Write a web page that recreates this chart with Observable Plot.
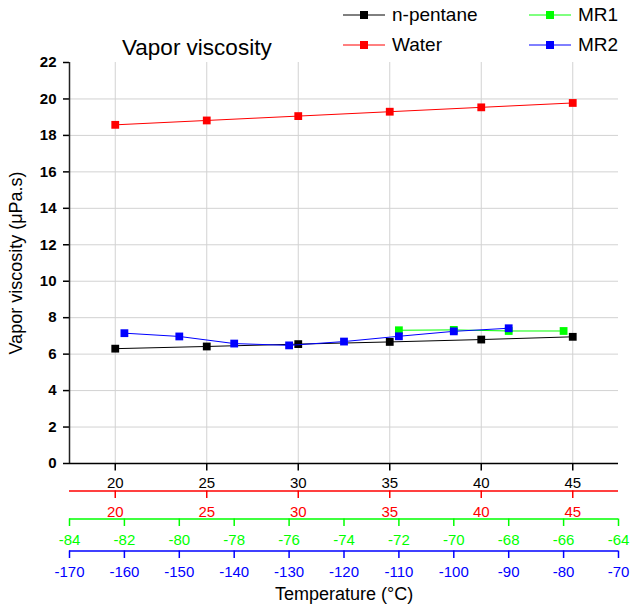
<!DOCTYPE html>
<html><head><meta charset="utf-8">
<script src="https://cdn.jsdelivr.net/npm/d3@7"></script>
<script src="https://cdn.jsdelivr.net/npm/@observablehq/plot@0.6"></script>
<style>
body{margin:0;background:#fff;font-family:"Liberation Sans",Arial,sans-serif;}
#wrap{position:relative;width:631px;height:608px;overflow:hidden;}
#wrap > svg{position:absolute;left:0;top:0;}
#title{position:absolute;left:122px;top:35px;font-size:22.5px;color:#000;white-space:nowrap;}
.leg{position:absolute;display:flex;align-items:center;font-size:19px;color:#000;white-space:nowrap;}
.leg svg{margin-right:7px;}
</style></head><body><div id="wrap"><div id="title">Vapor viscosity</div></div>
<script>
// ---- data ----
const temps = [20, 25, 30, 35, 40, 45];
const pentane = [6.30, 6.42, 6.55, 6.67, 6.80, 6.95];
const water = [18.58, 18.82, 19.06, 19.30, 19.54, 19.78];
const mr1Temps = [-72, -70, -68, -66];
const mr1 = [7.31, 7.33, 7.27, 7.27];
const mr2Temps = [-160, -150, -140, -130, -120, -110, -100, -90];
const mr2 = [7.15, 6.97, 6.58, 6.48, 6.69, 6.98, 7.25, 7.42];

// ---- axes / ticks ----
const xDomain = [17.5, 47.5];
const mr1Domain = [-84, -64];
const mr2Domain = [-170, -70];
const yDomain = [0, 22];
const tempTicks = [20, 25, 30, 35, 40, 45];
const mr1Ticks = [-84, -82, -80, -78, -76, -74, -72, -70, -68, -66, -64];
const mr2Ticks = [-170, -160, -150, -140, -130, -120, -110, -100, -90, -80, -70];
const yTicks = [0, 2, 4, 6, 8, 10, 12, 14, 16, 18, 20, 22];
const yGrid = [2, 4, 6, 8, 10, 12, 14, 16, 18, 20];
const seriesNames = ["n-pentane", "Water", "MR1", "MR2"];
const seriesColors = ["#000000", "#ff0000", "#00ff00", "#0000ff"];
const xTitle = "Temperature (°C)";
const yTitle = "Vapor viscosity (μPa.s)";

const font = '"Liberation Sans", Arial, sans-serif';
const common = {
  width: 631, height: 608,
  marginLeft: 69, marginRight: 13, marginTop: 62, marginBottom: 145,
  style: {background: "transparent", fontFamily: font, fontSize: "15px", overflow: "visible",
          position: "absolute", left: "0px", top: "0px"}
};
const fmt = d => String(d);

function bottomAxis(ticks, color, dy, pad) {
  return [
    Plot.ruleY([0], {stroke: color, strokeWidth: 1.5, dy}),
    Plot.ruleX(ticks, {x: d => d, y1: 0, y2: 0, insetBottom: -7.5, stroke: color, strokeWidth: 1.5, dy}),
    Plot.axisX(ticks, {color, dy, tickSize: 0, tickPadding: pad,
      tickFormat: fmt, label: null, fontSize: 15})
  ];
}
function series(xs, ys, color) {
  const data = xs.map((x, i) => ({x, y: ys[i]}));
  return [
    Plot.line(data, {x: "x", y: "y", stroke: color, strokeWidth: 1}),
    Plot.dot(data, {x: "x", y: "y", symbol: "square", r: 4.4, fill: color, stroke: "none"})
  ];
}

const main = Plot.plot({
  ...common,
  x: {domain: xDomain},
  y: {domain: yDomain},
  marks: [
    Plot.gridX(tempTicks, {stroke: "#d2d2d2", strokeOpacity: 1, strokeWidth: 1}),
    Plot.gridY(yGrid, {stroke: "#d2d2d2", strokeOpacity: 1, strokeWidth: 1}),
    Plot.axisY(yTicks, {tickSize: 6, tickPadding: 7, fontWeight: "bold", fontSize: 15,
      strokeWidth: 1.5, color: "#000", label: null}),
    Plot.axisY([], {tickSize: 0, label: yTitle, labelAnchor: "center", labelArrow: "none",
      labelOffset: 60, fontSize: 18, color: "#000", dy: 5}),
    Plot.axisX([], {tickSize: 0, label: xTitle, labelAnchor: "center", labelArrow: "none",
      labelOffset: 136, fontSize: 18, color: "#000"}),
    Plot.ruleX([xDomain[0]], {stroke: "#222", strokeWidth: 1.5}),
    ...bottomAxis(tempTicks, "#000000", 0, 14),
    ...bottomAxis(tempTicks, "#ff0000", 27.5, 15.5),
    ...series(temps, water, seriesColors[1]),
    ...series(temps, pentane, seriesColors[0])
  ]
});

const over1 = Plot.plot({
  ...common,
  x: {domain: mr1Domain},
  y: {domain: yDomain, axis: null},
  marks: [
    ...bottomAxis(mr1Ticks, "#00ff00", 55.5, 15.5),
    ...series(mr1Temps, mr1, seriesColors[2])
  ]
});
const over2 = Plot.plot({
  ...common,
  x: {domain: mr2Domain},
  y: {domain: yDomain, axis: null},
  marks: [
    ...bottomAxis(mr2Ticks, "#0000ff", 87.5, 15.5),
    ...series(mr2Temps, mr2, seriesColors[3])
  ]
});

const wrap = document.getElementById("wrap");
wrap.insertBefore(over2, wrap.firstChild);
wrap.insertBefore(over1, wrap.firstChild);
wrap.insertBefore(main, wrap.firstChild);

// legend
const legPos = [[343, 15], [343, 45], [529, 15], [529, 45]];
seriesNames.forEach((name, i) => {
  const div = document.createElement("div");
  div.className = "leg";
  div.style.left = legPos[i][0] + "px";
  div.style.top = (legPos[i][1] - 11) + "px";
  div.style.height = "22px";
  const c = seriesColors[i];
  div.innerHTML = `<svg width="42" height="10"><line x1="0" x2="42" y1="5" y2="5" stroke="${c}" stroke-width="1"/><rect x="17" y="1" width="8" height="8" fill="${c}"/></svg><span>${name}</span>`;
  wrap.appendChild(div);
});
</script></body></html>
